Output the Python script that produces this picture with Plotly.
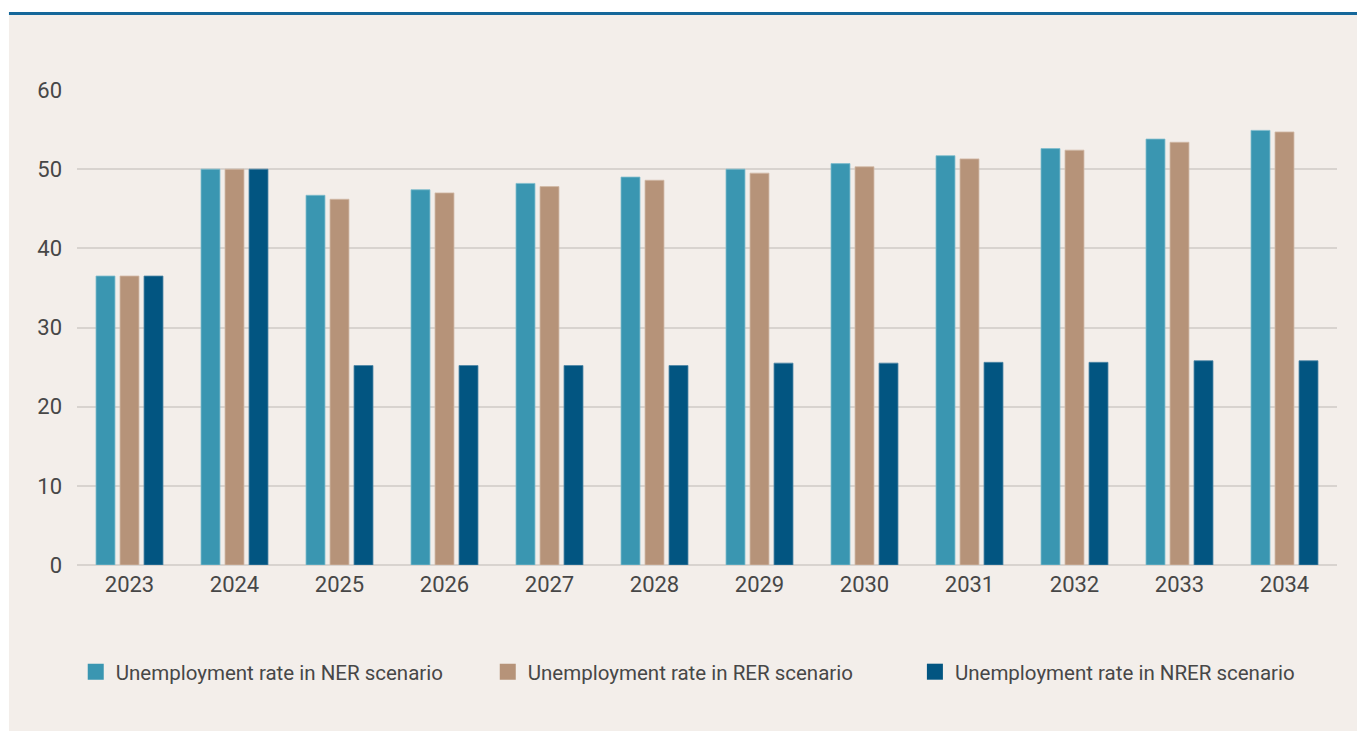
import plotly.graph_objects as go

# values (unemployment rate, %)
years = ["2023", "2024", "2025", "2026", "2027", "2028",
         "2029", "2030", "2031", "2032", "2033", "2034"]
ner = [36.5, 50.0, 46.7, 47.4, 48.2, 49.0, 50.0, 50.7, 51.7, 52.6, 53.8, 54.9]
rer = [36.5, 50.0, 46.2, 47.0, 47.8, 48.6, 49.5, 50.3, 51.3, 52.4, 53.4, 54.7]
nrer = [36.5, 50.0, 25.2, 25.2, 25.2, 25.2, 25.5, 25.5, 25.6, 25.6, 25.8, 25.8]
y_ticks = [0, 10, 20, 30, 40, 50, 60]

names = ["Unemployment rate in NER scenario",
         "Unemployment rate in RER scenario",
         "Unemployment rate in NRER scenario"]
colors = ["#3A96B1", "#B69379", "#025581"]
edges = ["#7FBCCD", "#D2B9A6", "#4F86A6"]
series = [ner, rer, nrer]

BG = "#F3EEEA"
TEXT = "#474747"

fig = go.Figure()

for vals, name, col, edge in zip(series, names, colors, edges):
    fig.add_trace(go.Bar(
        x=years, y=vals, name=name,
        marker=dict(color=col, line=dict(color=edge, width=0.8)),
        showlegend=False,
        hoverinfo="x+y"
    ))

# legend entries (one legend per entry so each can be placed like the original)
legend_keys = ["legend", "legend2", "legend3"]
for name, col, key in zip(names, colors, legend_keys):
    fig.add_trace(go.Scatter(
        x=[None], y=[None], mode="markers", name=name,
        marker=dict(symbol="square", size=16, color=col),
        legend=key, showlegend=True
    ))

legend_style = dict(
    orientation="h", yanchor="middle", y=-0.225, xanchor="left",
    bgcolor="rgba(0,0,0,0)", font=dict(family="Roboto", size=20.5, color=TEXT),
)

fig.update_layout(
    width=1357, height=731,
    margin=dict(l=77, r=20, t=90, b=166),
    paper_bgcolor=BG,
    plot_bgcolor=BG,
    barmode="group",
    bargap=0.314,
    bargroupgap=0.21,
    font=dict(family="Roboto", color=TEXT),
    legend=dict(legend_style, x=-0.001),
    legend2=dict(legend_style, x=0.326),
    legend3=dict(legend_style, x=0.665),
    xaxis=dict(
        tickfont=dict(size=22, color=TEXT),
        showgrid=False, showline=False, zeroline=False,
        ticks="", ticklabelstandoff=4,
    ),
    yaxis=dict(
        range=[0, 60], tickvals=y_ticks,
        tickfont=dict(size=22, color=TEXT),
        showgrid=True, gridcolor="#D8D3CF", gridwidth=1.5,
        zeroline=True, zerolinecolor="#D8D3CF", zerolinewidth=1.5,
        showline=False, ticks="", ticklabelstandoff=14,
    ),
    shapes=[
        # white strips round the beige panel
        dict(type="rect", xref="paper", yref="paper", x0=-0.07, x1=1.02,
             y0=1.1621, y1=1.2, fillcolor="white", line=dict(width=0), layer="below"),
        dict(type="rect", xref="paper", yref="paper", x0=-0.07, x1=-0.0540,
             y0=-0.36, y1=1.2, fillcolor="white", line=dict(width=0), layer="below"),
        # dark blue rule on top
        dict(type="line", xref="paper", yref="paper", x0=-0.0540, x1=1.02,
             y0=1.1611, y1=1.1611, line=dict(color="#15679A", width=3)),
    ],
)

fig.write_html("out.html", config={"displayModeBar": False},
               post_script="document.body.style.margin='0';")
